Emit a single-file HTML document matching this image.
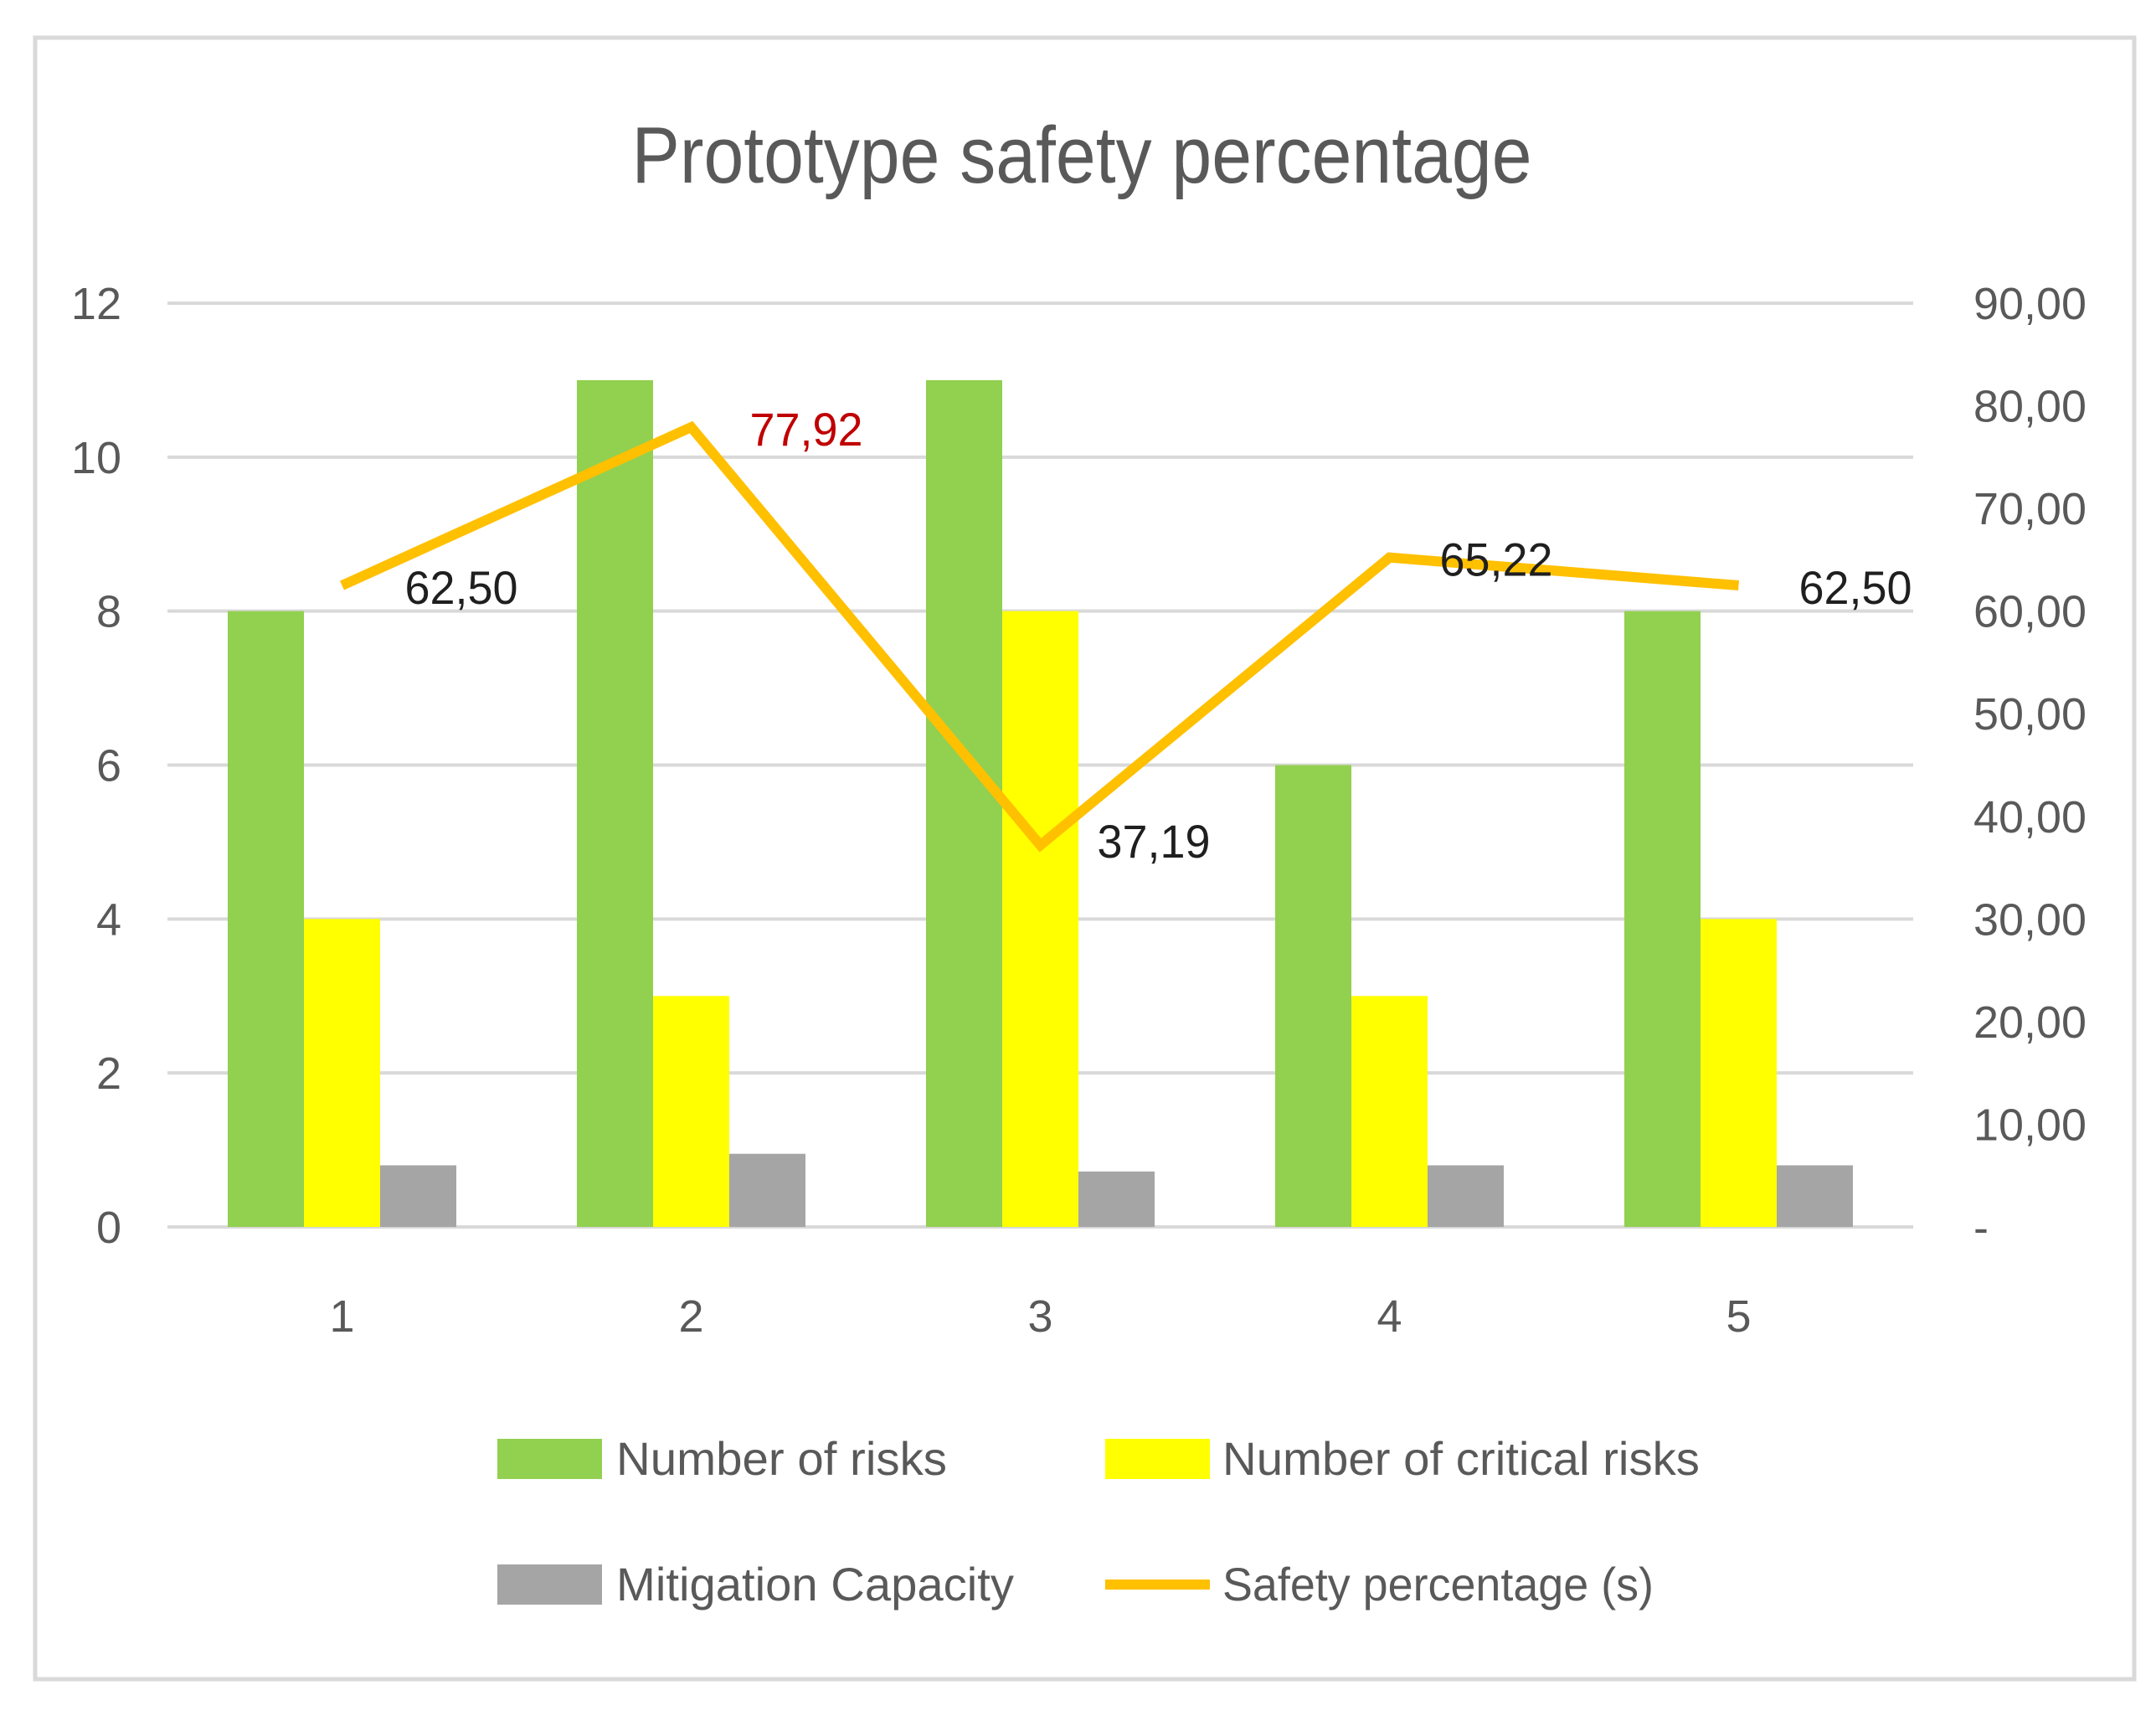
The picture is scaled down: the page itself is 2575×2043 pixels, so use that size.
<!DOCTYPE html>
<html><head><meta charset="utf-8"><style>
body{margin:0;background:#fff;}
svg text{font-family:"Liberation Sans",sans-serif;}
</style></head><body>
<svg id="chart" width="2575" height="2038" viewBox="0 0 2575 2038" xmlns="http://www.w3.org/2000/svg">
<rect x="0" y="0" width="2575" height="2038" fill="#fff"/>
<rect x="42" y="45" width="2507" height="1960" fill="#fff" stroke="#d9d9d9" stroke-width="5"/>
<text x="1292" y="218" text-anchor="middle" font-size="96" fill="#595959" textLength="1075" lengthAdjust="spacingAndGlyphs">Prototype safety percentage</text>
<g id="grid"></g>
<g id="bars"></g>
<g id="line"></g>
<g id="labels"></g>
<g>
<rect x="594" y="1718" width="125" height="48" fill="#92d050"/>
<text x="736" y="1761" font-size="56" fill="#595959" textLength="395" lengthAdjust="spacingAndGlyphs">Number of risks</text>
<rect x="1320" y="1718" width="125" height="48" fill="#ffff00"/>
<text x="1460" y="1761" font-size="56" fill="#595959" textLength="570" lengthAdjust="spacingAndGlyphs">Number of critical risks</text>
<rect x="594" y="1868" width="125" height="48" fill="#a5a5a5"/>
<text x="736" y="1911" font-size="56" fill="#595959" textLength="475" lengthAdjust="spacingAndGlyphs">Mitigation Capacity</text>
<line x1="1320" y1="1892" x2="1445" y2="1892" stroke="#ffc000" stroke-width="12"/>
<text x="1460" y="1911" font-size="56" fill="#595959" textLength="515" lengthAdjust="spacingAndGlyphs">Safety percentage (s)</text>
</g>
</svg>
<script>
const categories = ["1","2","3","4","5"];
const risks = [8, 11, 11, 6, 8];
const criticalRisks = [4, 3, 8, 3, 4];
const mitigation = [0.8, 0.95, 0.72, 0.8, 0.8];
const safety = [62.50, 77.92, 37.19, 65.22, 62.50];
const safetyLabels = ["62,50","77,92","37,19","65,22","62,50"];
const leftTicks = [0,2,4,6,8,10,12];
const rightTicks = [0,10,20,30,40,50,60,70,80,90];
const rightTickLabels = ["-","10,00","20,00","30,00","40,00","50,00","60,00","70,00","80,00","90,00"];

const NS="http://www.w3.org/2000/svg";
const X0=200, X1=2285, Y0=1465, Ytop=362;
const yL=v=>Y0-(v/12)*(Y0-Ytop);
const yR=v=>Y0-(v/90)*(Y0-Ytop);
const bandW=(X1-X0)/categories.length;
const xc=i=>X0+bandW*(i+0.5);
const BW=91;
function mk(tag,attrs,parent,txt){const e=document.createElementNS(NS,tag);for(const k in attrs)e.setAttribute(k,attrs[k]);if(txt!==undefined)e.textContent=txt;parent.appendChild(e);return e;}
const grid=document.getElementById('grid'), bars=document.getElementById('bars'), line=document.getElementById('line'), labels=document.getElementById('labels');
leftTicks.forEach(t=>{
  const l=mk('line',{x1:X0,x2:X1,y1:yL(t),y2:yL(t),stroke:'#d9d9d9','stroke-width':4},grid);
  
  
  const tx=mk('text',{x:145,y:yL(t)+19,'text-anchor':'end','font-size':54,fill:'#595959'},grid,String(t));
  
  
});
rightTicks.forEach((t,i)=>{
  const tx=mk('text',{x:2492,y:yR(t)+19,'text-anchor':'end','font-size':54,fill:'#595959',textLength:135,lengthAdjust:'spacingAndGlyphs'},grid,rightTickLabels[i]);
  if(rightTickLabels[i].length<=1){tx.removeAttribute('textLength');tx.removeAttribute('lengthAdjust');tx.setAttribute('x',2375);}
  
  
});
categories.forEach((c,i)=>{
  const tx=mk('text',{x:xc(i),y:1590,'text-anchor':'middle','font-size':54,fill:'#595959'},grid,c);
  
  
  [[risks,'#92d050','bar-risks'],[criticalRisks,'#ffff00','bar-critical'],[mitigation,'#a5a5a5','bar-mitigation']].forEach((s,j)=>{
    const v=s[0][i];
    const r=mk('rect',{x:xc(i)-1.5*BW+j*BW,y:yL(v),width:BW,height:Y0-yL(v),fill:s[1]},bars);
    
    
  });
});
const pts=safety.map((v,i)=>xc(i)+','+yR(v)).join(' ');
const pl=mk('polyline',{points:pts,fill:'none',stroke:'#ffc000','stroke-width':12,'stroke-linejoin':'miter'},line);


const offs=[[75,2],[70,2],[68,-5],[60,2],[72,2]];
safety.forEach((v,i)=>{
  const tx=mk('text',{x:xc(i)+offs[i][0],y:yR(v)+offs[i][1]+20,'font-size':56,fill:i===1?'#c00000':'#1f1f1f',textLength:135,lengthAdjust:'spacingAndGlyphs'},labels,safetyLabels[i]);
  
  
});
</script>
</body></html>
